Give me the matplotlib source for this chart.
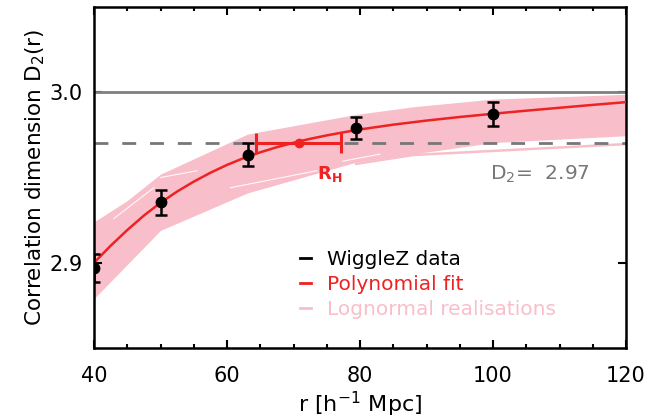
import matplotlib
matplotlib.use('Agg')
import matplotlib.pyplot as plt
from matplotlib.lines import Line2D
from matplotlib.ticker import MultipleLocator

# WiggleZ measurements of D2(r)
r_data = [40.0, 50.1, 63.1, 79.4, 100.0]
d2_data = [2.897, 2.9355, 2.9633, 2.979, 2.987]
d2_err = [0.008, 0.0074, 0.0068, 0.0066, 0.007]

# polynomial fit
r_fit = [40, 42.5, 45, 47.5, 50, 52.5, 55, 57.5, 60, 62.5, 65, 67.5, 70, 72.5, 75, 77.5,
         80, 85, 90, 95, 100, 105, 110, 115, 120]
d2_fit = [2.9000, 2.9100, 2.9192, 2.9277, 2.9352, 2.9418, 2.9476, 2.9528, 2.9574, 2.9614,
          2.9648, 2.9678, 2.9704, 2.9727, 2.9747, 2.9765, 2.9782, 2.9810, 2.9834, 2.9855,
          2.9874, 2.9892, 2.9909, 2.9926, 2.9942]

# envelope of the lognormal realisations
r_band = [40, 45, 50, 63.1, 79.4, 88, 100, 120]
band_hi = [2.924, 2.9365, 2.952, 2.9755, 2.987, 2.9915, 2.996, 2.9988]
band_lo = [2.879, 2.899, 2.919, 2.941, 2.959, 2.9638, 2.9705, 2.9745]

# lowest realisation that leaves the band at large r
r_low = [79.4, 88, 100, 120]
d2_low = [2.958, 2.9632, 2.9656, 2.9696]

# thin gaps between individual realisations
gaps = [([43, 49], [2.926, 2.944]),
        ([50, 55.5], [2.950, 2.954]),
        ([60.5, 73.5], [2.944, 2.954]),
        ([77.4, 83], [2.9596, 2.9637])]

# homogeneity scale
rh = 70.8
rh_lo = 64.4
rh_hi = 77.1
d2_hom = 2.97

pink = '#F8BFCA'
red = '#EE2222'
grey = '#777777'

fig = plt.figure(figsize=(6.67, 4.2), dpi=100)
ax = fig.add_axes([0.141, 0.1714, 0.7976, 0.8119])

ax.fill_between(r_band, band_lo, band_hi, color=pink, lw=0, zorder=1)
ax.plot(r_low, d2_low, color=pink, lw=1.8, zorder=1)
for gx, gy in gaps:
    ax.plot(gx, gy, color='white', lw=0.8, alpha=0.9, zorder=1)

ax.axhline(3.0, color='#808080', lw=2.0, zorder=2)
ax.axhline(d2_hom, color=grey, lw=2.0, dashes=(5, 5), zorder=2)

ax.plot(r_fit, d2_fit, color=red, lw=1.8, zorder=3)

ax.errorbar([rh], [d2_hom], xerr=[[rh - rh_lo], [rh_hi - rh]], fmt='o', color=red,
            ms=6, lw=2.2, capsize=7, capthick=2.2, zorder=4)

ax.errorbar(r_data, d2_data, yerr=d2_err, fmt='o', color='black', ms=7.5,
            lw=1.8, capsize=4.5, capthick=1.8, zorder=5)

ax.text(73.5, 2.952, r'R$_\mathregular{H}$', color=red, fontsize=13,
        fontweight='bold', va='center')
ax.text(99.5, 2.952, r'D$_\mathregular{2}$=  2.97', color=grey, fontsize=14.5,
        va='center')

handles = [Line2D([], [], color='black', lw=2),
           Line2D([], [], color=red, lw=2),
           Line2D([], [], color=pink, lw=2)]
labels = ['WiggleZ data', 'Polynomial fit', 'Lognormal realisations']
ax.legend(handles, labels, loc='upper left', bbox_to_anchor=(0.372, 0.31),
          frameon=False, handlelength=0.55, handletextpad=0.8, labelspacing=0.3,
          fontsize=14.5, labelcolor='linecolor', borderaxespad=0)

ax.set_xlim(40, 120)
ax.set_ylim(2.85, 3.05)
ax.set_xticks([40, 60, 80, 100, 120])
ax.xaxis.set_minor_locator(MultipleLocator(5))
ax.set_yticks([2.9, 3.0])
ax.set_yticklabels(['2.9', '3.0'])
ax.tick_params(which='both', direction='in', top=True, right=True, width=1.5,
               labelsize=15)
ax.tick_params(which='major', length=6, pad=8)
ax.tick_params(axis='x', which='major', pad=13)
ax.tick_params(which='minor', length=3)
for s in ax.spines.values():
    s.set_linewidth(1.8)

ax.set_xlabel(r'r [h$^{-1}$ Mpc]', fontsize=16, labelpad=3)
ax.set_ylabel(r'Correlation dimension D$_2$(r)', fontsize=15.5, labelpad=2)

fig.savefig('out.png', dpi=100)
